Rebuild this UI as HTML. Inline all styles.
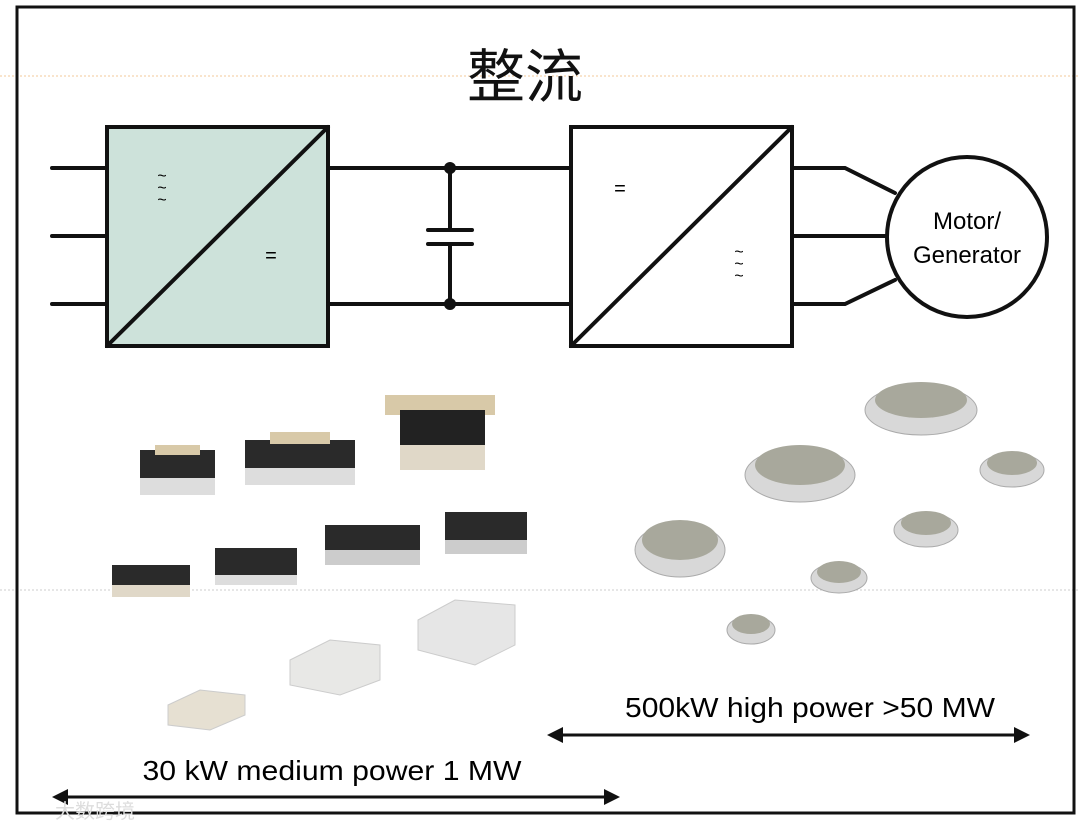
<!DOCTYPE html>
<html><head><meta charset="utf-8"><style>
body{margin:0;background:#fff;}
svg{display:block;}
text{font-family:"Liberation Sans","Noto Sans CJK SC",sans-serif;}
</style></head><body>
<svg width="1080" height="831" viewBox="0 0 1080 831" xmlns="http://www.w3.org/2000/svg">
<rect x="0" y="0" width="1080" height="831" fill="#fff"/>
<line x1="0" y1="76" x2="1080" y2="76" stroke="#f3c89a" stroke-width="1" stroke-dasharray="2,2"/>
<line x1="0" y1="590" x2="1080" y2="590" stroke="#cccccc" stroke-width="1" stroke-dasharray="2,2"/>
<rect x="17" y="7" width="1057" height="806" fill="none" stroke="#111" stroke-width="3"/>
<text x="525" y="97" font-size="58" text-anchor="middle" fill="#111">整流</text>
<g stroke="#111" stroke-width="4" fill="none" stroke-linecap="round">
<line x1="52" y1="168" x2="107" y2="168"/><line x1="52" y1="236" x2="107" y2="236"/><line x1="52" y1="304" x2="107" y2="304"/>
<rect x="107" y="127" width="221" height="219" fill="#cde2da"/>
<line x1="107" y1="346" x2="328" y2="127"/>
<line x1="328" y1="168" x2="571" y2="168"/><line x1="328" y1="304" x2="571" y2="304"/>
<line x1="450" y1="168" x2="450" y2="230"/><line x1="450" y1="244" x2="450" y2="304"/>
<line x1="428" y1="230" x2="472" y2="230"/><line x1="428" y1="244" x2="472" y2="244"/>
<rect x="571" y="127" width="221" height="219" fill="#fff"/>
<line x1="571" y1="346" x2="792" y2="127"/>
<polyline points="792,168 845,168 895,193"/><line x1="792" y1="236" x2="887" y2="236"/><polyline points="792,304 845,304 895,280"/>
<circle cx="967" cy="237" r="80" fill="#fff"/>
</g>
<circle cx="450" cy="168" r="6" fill="#111"/><circle cx="450" cy="304" r="6" fill="#111"/>
<text x="162" y="181" font-size="16" text-anchor="middle">~</text>
<text x="162" y="193" font-size="16" text-anchor="middle">~</text>
<text x="162" y="205" font-size="16" text-anchor="middle">~</text>
<text x="271" y="262" font-size="20" text-anchor="middle">=</text>
<text x="620" y="195" font-size="20" text-anchor="middle">=</text>
<text x="739" y="257" font-size="16" text-anchor="middle">~</text>
<text x="739" y="269" font-size="16" text-anchor="middle">~</text>
<text x="739" y="281" font-size="16" text-anchor="middle">~</text>
<text x="967" y="229" font-size="24" text-anchor="middle">Motor/</text>
<text x="967" y="263" font-size="24" text-anchor="middle">Generator</text>
<!-- modules -->
<g>
<rect x="140" y="450" width="75" height="45" fill="#2a2a2a"/><rect x="140" y="478" width="75" height="17" fill="#ddd"/><rect x="155" y="445" width="45" height="10" fill="#d8c9a8"/>
<rect x="245" y="440" width="110" height="45" fill="#2a2a2a"/><rect x="245" y="468" width="110" height="17" fill="#ddd"/><rect x="270" y="432" width="60" height="12" fill="#d8c9a8"/>
<rect x="385" y="395" width="110" height="20" fill="#d8c9a8"/><rect x="400" y="410" width="85" height="50" fill="#222"/><rect x="400" y="445" width="85" height="25" fill="#e0d8c8"/>
<rect x="112" y="565" width="78" height="30" fill="#2a2a2a"/><rect x="112" y="585" width="78" height="12" fill="#e0d8c8"/>
<rect x="215" y="548" width="82" height="35" fill="#2a2a2a"/><rect x="215" y="575" width="82" height="10" fill="#ddd"/>
<rect x="325" y="525" width="95" height="40" fill="#2a2a2a"/><rect x="325" y="550" width="95" height="15" fill="#ccc"/>
<rect x="445" y="512" width="82" height="42" fill="#2a2a2a"/><rect x="445" y="540" width="82" height="14" fill="#ccc"/>
<polygon points="418,620 455,600 515,605 515,645 475,665 418,650" fill="#e6e6e6" stroke="#ccc"/>
<polygon points="290,660 330,640 380,645 380,680 340,695 290,685" fill="#e8e8e6" stroke="#ccc"/>
<polygon points="168,705 200,690 245,695 245,715 210,730 168,725" fill="#e6e0d2" stroke="#ccc"/>
</g>
<!-- discs -->
<g>
<ellipse cx="921" cy="410" rx="56" ry="25" fill="#d8d8d8" stroke="#aaa"/><ellipse cx="921" cy="400" rx="46" ry="18" fill="#a8a89c"/>
<ellipse cx="800" cy="475" rx="55" ry="27" fill="#d8d8d8" stroke="#aaa"/><ellipse cx="800" cy="465" rx="45" ry="20" fill="#a8a89c"/>
<ellipse cx="680" cy="550" rx="45" ry="27" fill="#d8d8d8" stroke="#aaa"/><ellipse cx="680" cy="540" rx="38" ry="20" fill="#a8a89c"/>
<ellipse cx="1012" cy="470" rx="32" ry="17" fill="#d8d8d8" stroke="#aaa"/><ellipse cx="1012" cy="463" rx="25" ry="12" fill="#a8a89c"/>
<ellipse cx="926" cy="530" rx="32" ry="17" fill="#d8d8d8" stroke="#aaa"/><ellipse cx="926" cy="523" rx="25" ry="12" fill="#a8a89c"/>
<ellipse cx="839" cy="578" rx="28" ry="15" fill="#d8d8d8" stroke="#aaa"/><ellipse cx="839" cy="572" rx="22" ry="11" fill="#a8a89c"/>
<ellipse cx="751" cy="630" rx="24" ry="14" fill="#d8d8d8" stroke="#aaa"/><ellipse cx="751" cy="624" rx="19" ry="10" fill="#a8a89c"/>
</g>
<text x="810" y="717" font-size="28" text-anchor="middle" textLength="370" lengthAdjust="spacingAndGlyphs">500kW high power &gt;50 MW</text>
<text x="332" y="780" font-size="28" text-anchor="middle" textLength="379" lengthAdjust="spacingAndGlyphs">30 kW medium power 1 MW</text>
<g stroke="#111" stroke-width="3"><line x1="556" y1="735" x2="1020" y2="735"/><line x1="62" y1="797" x2="610" y2="797"/></g>
<polygon points="547,735 563,727 563,743" fill="#111"/><polygon points="1030,735 1014,727 1014,743" fill="#111"/>
<polygon points="52,797 68,789 68,805" fill="#111"/><polygon points="620,797 604,789 604,805" fill="#111"/>
<text x="55" y="818" font-size="20" fill="#ddd">大数跨境</text>
</svg>
</body></html>
